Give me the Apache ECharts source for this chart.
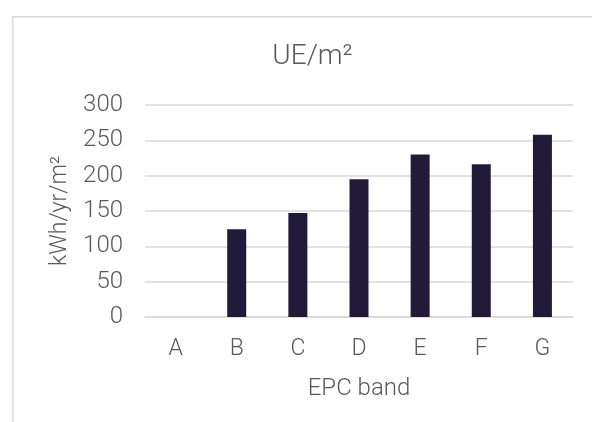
<!DOCTYPE html>
<html>
<head>
<meta charset="utf-8">
<script src="https://cdn.jsdelivr.net/npm/echarts@6/dist/echarts.min.js"></script>
<style>
  html, body { margin: 0; padding: 0; background: #ffffff; }
  #chart { width: 592px; height: 422px; }
</style>
</head>
<body>
<div id="chart"></div>
<script>
// EPC bands and mean useful energy per square metre
const bands = ['A', 'B', 'C', 'D', 'E', 'F', 'G'];
const uePerM2 = [0, 124, 147, 195, 230, 216, 258];
const yTicks = [0, 50, 100, 150, 200, 250, 300];

const titleText = 'UE/m²';
const xName = 'EPC band';
const yName = 'kWh/yr/m²';

const textGray = '#595959';
const lineGray = '#d9d9d9';
const fontFamily = 'Roboto, "Open Sans", sans-serif';

const chart = echarts.init(document.getElementById('chart'), null, { renderer: 'canvas' });

chart.setOption({
  backgroundColor: '#ffffff',
  animation: false,
  graphic: [{
    type: 'rect',
    left: 12,
    top: 16,
    shape: { width: 620, height: 440 },
    style: { fill: 'transparent', stroke: lineGray, lineWidth: 1.5 },
    silent: true,
    z: -1
  }],
  title: {
    text: titleText,
    left: 307.5,
    top: 38,
    textAlign: 'center',
    textStyle: { color: textGray, fontFamily: fontFamily, fontWeight: 300, fontSize: 28 }
  },
  grid: { left: 145, right: 19, top: 105, bottom: 105, containLabel: false },
  xAxis: {
    type: 'category',
    data: bands,
    name: xName,
    nameLocation: 'middle',
    nameGap: 60,
    nameTextStyle: { color: textGray, fontFamily: fontFamily, fontWeight: 300, fontSize: 24 },
    axisLine: { show: true, lineStyle: { color: lineGray, width: 1.5 } },
    axisTick: { show: false },
    axisLabel: { color: textGray, fontFamily: fontFamily, fontWeight: 300, fontSize: 23, margin: 21 }
  },
  yAxis: {
    type: 'value',
    min: yTicks[0],
    max: yTicks[yTicks.length - 1],
    interval: yTicks[1] - yTicks[0],
    name: yName,
    nameLocation: 'middle',
    nameGap: 68,
    nameRotate: 90,
    nameTextStyle: { color: textGray, fontFamily: fontFamily, fontWeight: 300, fontSize: 23 },
    axisLine: { show: false },
    axisTick: { show: false },
    axisLabel: { color: textGray, fontFamily: fontFamily, fontWeight: 300, fontSize: 24, margin: 22 },
    splitLine: { show: true, lineStyle: { color: lineGray, width: 1.5 } }
  },
  series: [{
    type: 'bar',
    data: uePerM2,
    barWidth: 19,
    itemStyle: { color: '#211b39' }
  }]
});
</script>
</body>
</html>
